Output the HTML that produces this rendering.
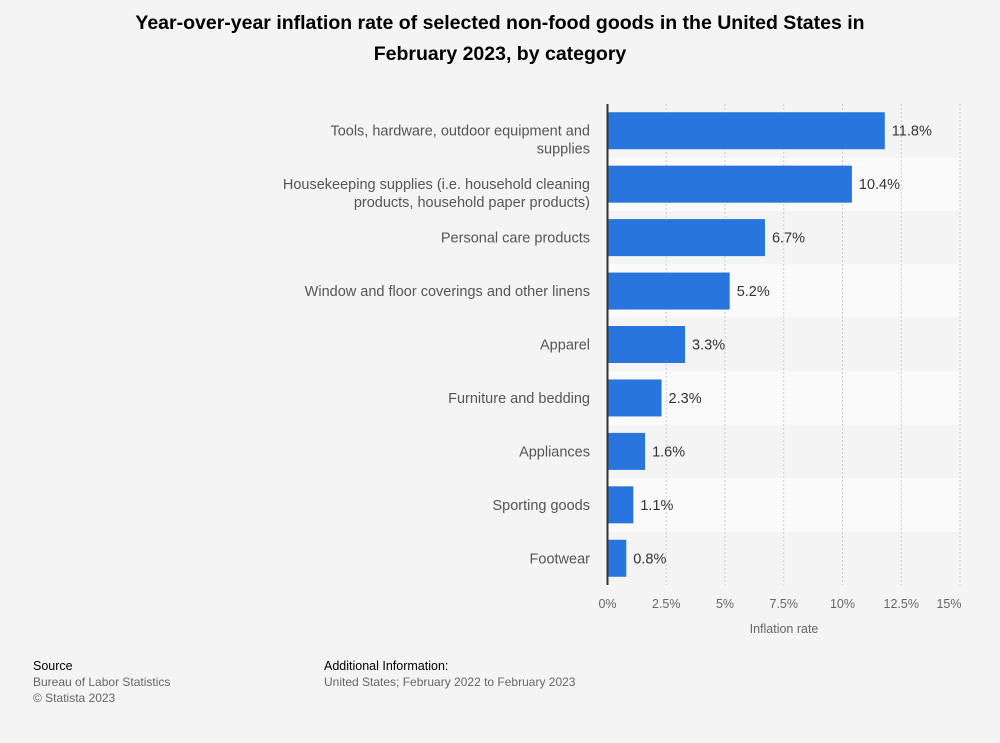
<!DOCTYPE html>
<html><head><meta charset="utf-8"><style>
body{margin:0;background:#f4f4f4;font-family:"Liberation Sans",sans-serif;}
#wrap{position:relative;width:1000px;height:743px;overflow:hidden;background:#f4f4f4}
h1{position:absolute;left:0;width:1000px;top:8px;margin:0;text-align:center;font-size:19.5px;line-height:31px;font-weight:bold;color:#000}
.ft{position:absolute;font-size:12px;color:#666;line-height:16px}
.ft b{color:#000;font-weight:normal;font-size:12.5px}
</style></head><body>
<div id="wrap">
<h1>Year-over-year inflation rate of selected non-food goods in the United States in<br>February 2023, by category</h1>
<svg id="chart" width="1000" height="650" style="position:absolute;left:0;top:0"></svg>
<div class="ft" style="left:33px;top:658px"><b>Source</b><br>Bureau of Labor Statistics<br>© Statista 2023</div>
<div class="ft" style="left:324px;top:658px"><b>Additional Information:</b><br>United States; February 2022 to February 2023</div>
</div>
<script>
const categories=["Tools, hardware, outdoor equipment and|supplies","Housekeeping supplies (i.e. household cleaning|products, household paper products)","Personal care products","Window and floor coverings and other linens","Apparel","Furniture and bedding","Appliances","Sporting goods","Footwear"];
const values=[11.8,10.4,6.7,5.2,3.3,2.3,1.6,1.1,0.8];
const ticks=[0,2.5,5,7.5,10,12.5,15];
const tickLabels=["0%","2.5%","5%","7.5%","10%","12.5%","15%"];
const NS="http://www.w3.org/2000/svg";
const svg=document.getElementById('chart');
const x0=607.5,pxPer=23.5,yTop=104,yBottom=585;
const rowH=(yBottom-yTop)/categories.length;
const xs=v=>x0+v*pxPer;
function mk(t,a){const e=document.createElementNS(NS,t);for(const k in a)e.setAttribute(k,a[k]);svg.appendChild(e);return e;}
categories.forEach((c,i)=>{if(i%2==1){const r=mk('rect',{x:x0,y:yTop+i*rowH,width:xs(15)-x0,height:rowH,fill:'#fafafa'});

}});
ticks.forEach((t,i)=>{if(i>0){const l=mk('line',{x1:xs(t),x2:xs(t),y1:yTop,y2:yBottom,stroke:'#ccc','stroke-dasharray':'2,2'});

}
const tx=mk('text',{x:i==6?xs(t)-11:xs(t),y:608,'text-anchor':'middle','font-size':'12.5',fill:'#666'});tx.textContent=tickLabels[i];

});
const at=mk('text',{x:784,y:633,'text-anchor':'middle','font-size':'12.5',fill:'#666'});at.textContent='Inflation rate';


categories.forEach((c,i)=>{const cy=yTop+(i+0.5)*rowH;
const b=mk('rect',{x:x0,y:cy-18.5,width:xs(values[i])-x0,height:37,fill:'#2876dd'});


const v=mk('text',{x:xs(values[i])+7,y:cy+5,'font-size':'14.5',fill:'#333'});v.textContent=values[i]+'%';


const lines=c.split('|');
lines.forEach((ln,j)=>{const t=mk('text',{x:590,y:cy+5+j*18,'text-anchor':'end','font-size':'14.5',fill:'#555'});t.textContent=ln;

});});
const ax=mk('line',{x1:x0,x2:x0,y1:yTop,y2:yBottom,stroke:'#333','stroke-width':2});


</script>
</body></html>
